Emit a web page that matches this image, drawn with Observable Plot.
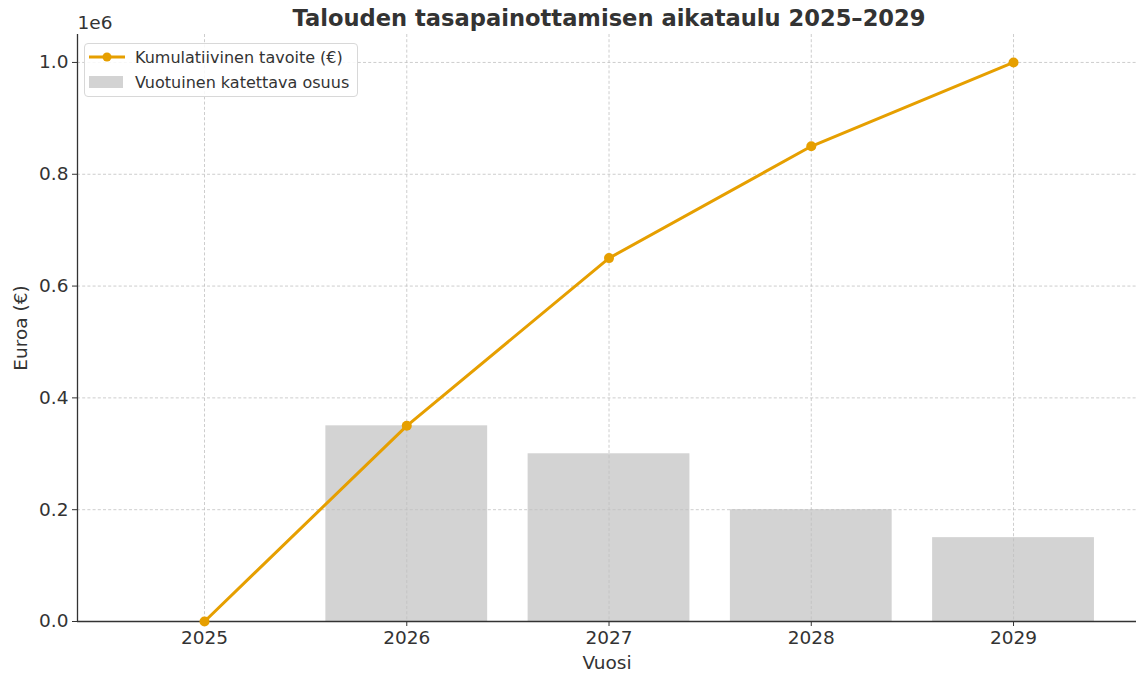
<!DOCTYPE html>
<html>
<head>
<meta charset="utf-8">
<script src="https://cdn.jsdelivr.net/npm/d3@7"></script>
<script src="https://cdn.jsdelivr.net/npm/@observablehq/plot@0.6"></script>
<style>
  html, body { margin: 0; padding: 0; background: #fff; overflow: hidden; }
  #wrap { position: relative; width: 1136px; height: 673px; font-family: "DejaVu Sans", sans-serif; }
  #legend { position: absolute; left: 84px; top: 43px; width: 274px; height: 54px;
            border: 1px solid #d8d8d8; border-radius: 4px; background: rgba(255,255,255,0.85);
            font-size: 16px; color: #333; box-sizing: border-box; }
  .row { position: absolute; left: 0; height: 20px; display: flex; align-items: center; }
  .row span { position: absolute; left: 50px; white-space: nowrap; }
</style>
</head>
<body>
<div id="wrap"></div>
<script>
const years = [2025, 2026, 2027, 2028, 2029];
const cumulative = [0, 350000, 650000, 850000, 1000000];
const annual = [0, 350000, 300000, 200000, 150000];
const yTicks = [0, 200000, 400000, 600000, 800000, 1000000];
const titleText = "Talouden tasapainottamisen aikataulu 2025–2029";
const lineLabel = "Kumulatiivinen tavoite (€)";
const barLabel = "Vuotuinen katettava osuus";

const lineData = years.map((year, i) => ({year, value: cumulative[i]}));
const barData = years.map((year, i) => ({year, value: annual[i]}));

const xDomain = [2024.372, 2029.608];
const orange = "#E69F00";
const ink = "#333333";
const gridStyle = {stroke: "#c0c0c0", strokeOpacity: 1, strokeWidth: 0.8, strokeDasharray: "3,2.2"};

const chart = Plot.plot({
  width: 1136,
  height: 673,
  marginLeft: 77,
  marginRight: 0,
  marginTop: 34,
  marginBottom: 52,
  style: {fontFamily: "DejaVu Sans, sans-serif", color: ink, background: "white"},
  x: {type: "linear", domain: xDomain},
  y: {domain: [0, 1050000]},
  marks: [
    Plot.rectY(barData, {x1: d => d.year - 0.4, x2: d => d.year + 0.4, y: "value", fill: "#d3d3d3"}),
    Plot.gridX(years, gridStyle),
    Plot.gridY(yTicks, gridStyle),
    Plot.ruleY([0], {stroke: ink, strokeWidth: 1.3}),
    Plot.ruleX([xDomain[0]], {stroke: ink, strokeWidth: 1.3}),
    Plot.axisX({ticks: years, tickFormat: d => String(d), tickSize: 5, tickPadding: 4, fontSize: 18.5,
                label: "Vuosi", labelAnchor: "center", labelArrow: "none", labelOffset: 47, stroke: ink}),
    Plot.axisY({ticks: yTicks, tickFormat: d => (d / 1e6).toFixed(1), tickSize: 5, tickPadding: 4, fontSize: 18.5,
                label: "Euroa (€)", labelAnchor: "center", labelArrow: "none", labelOffset: 64, stroke: ink}),
    Plot.line(lineData, {x: "year", y: "value", stroke: orange, strokeWidth: 3}),
    Plot.dot(lineData, {x: "year", y: "value", r: 5, fill: orange}),
    Plot.text([titleText], {text: d => d, frameAnchor: "top", lineAnchor: "middle", dy: -16, dx: 2, fontSize: 22.6, fontWeight: "bold", fill: ink}),
    Plot.text(["1e6"], {text: d => d, frameAnchor: "top-left", lineAnchor: "middle", dy: -11, textAnchor: "start", fontSize: 18.5, fill: ink})
  ]
});

const wrap = document.getElementById("wrap");
wrap.appendChild(chart);

const legend = document.createElement("div");
legend.id = "legend";
legend.innerHTML = `
  <div class="row" style="top:3px;">
    <svg width="50" height="20" style="position:absolute;left:0;top:0"><line x1="4" x2="40" y1="10" y2="10" stroke="${orange}" stroke-width="3"/><circle cx="22" cy="10" r="4.5" fill="${orange}"/></svg>
    <span>${lineLabel}</span>
  </div>
  <div class="row" style="top:28px;">
    <svg width="50" height="20" style="position:absolute;left:0;top:0"><rect x="4" y="4" width="34" height="12" fill="#d3d3d3"/></svg>
    <span>${barLabel}</span>
  </div>`;
wrap.appendChild(legend);
</script>
</body>
</html>
